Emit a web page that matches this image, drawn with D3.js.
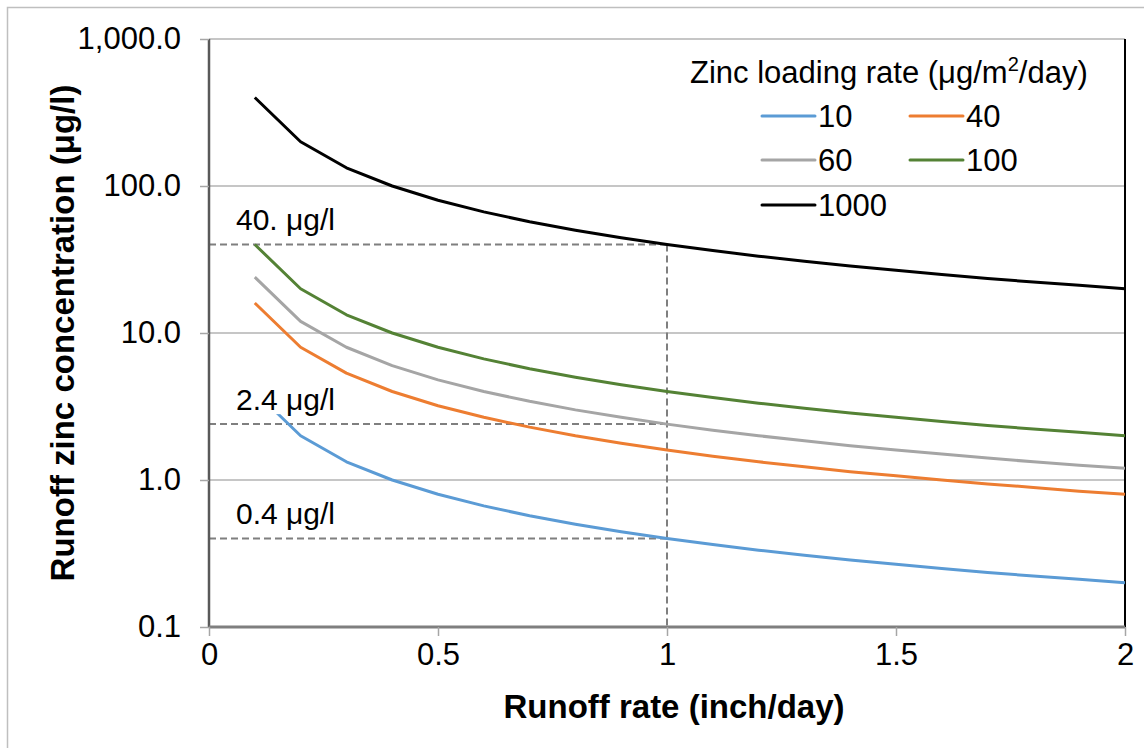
<!DOCTYPE html>
<html>
<head>
<meta charset="utf-8">
<script src="https://cdn.jsdelivr.net/npm/d3@7"></script>
<style>
  body { margin: 0; background: #fff; }
  text { font-family: "Liberation Sans", Arial, sans-serif; fill: #000; }
</style>
</head>
<body>
<div id="chart"></div>
<script>
// runoff rate (inch/day)
const runoffRate = [0.1, 0.2, 0.3, 0.4, 0.5, 0.6, 0.7, 0.8, 0.9, 1.0,
                    1.1, 1.2, 1.3, 1.4, 1.5, 1.6, 1.7, 1.8, 1.9, 2.0];

// zinc concentration (ug/l) for each loading rate
const load10 = [4.0, 2.0, 1.33, 1.0, 0.8, 0.667, 0.571, 0.5, 0.444, 0.4,
                0.364, 0.333, 0.308, 0.286, 0.267, 0.25, 0.235, 0.222, 0.211, 0.2];
const load40 = [16, 8.0, 5.33, 4.0, 3.2, 2.67, 2.29, 2.0, 1.78, 1.6,
                1.45, 1.33, 1.23, 1.14, 1.07, 1.0, 0.94, 0.89, 0.84, 0.8];
const load60 = [24, 12, 8.0, 6.0, 4.8, 4.0, 3.43, 3.0, 2.67, 2.4,
                2.18, 2.0, 1.85, 1.71, 1.6, 1.5, 1.41, 1.33, 1.26, 1.2];
const load100 = [40, 20, 13.3, 10, 8.0, 6.67, 5.71, 5.0, 4.44, 4.0,
                 3.64, 3.33, 3.08, 2.86, 2.67, 2.5, 2.35, 2.22, 2.11, 2.0];
const load1000 = [400, 200, 133, 100, 80, 66.7, 57.1, 50, 44.4, 40,
                  36.4, 33.3, 30.8, 28.6, 26.7, 25, 23.5, 22.2, 21.1, 20];

const seriesNames = ['10', '40', '60', '100', '1000'];
const seriesValues = [load10, load40, load60, load100, load1000];
const seriesColors = ['#5b9bd5', '#ed7d31', '#a5a5a5', '#548235', '#000000'];

const yTicks = [0.1, 1, 10, 100, 1000];
const xTicks = [0, 0.5, 1, 1.5, 2];

// reference lines at runoff 1 inch/day
const refX = 1;
const refY = [40, 2.4, 0.4];
const refLabels = ['40. \u03bcg/l', '2.4 \u03bcg/l', '0.4 \u03bcg/l'];

const width = 1144, height = 748;
const margin = { top: 39, right: 19, bottom: 121, left: 209 };

const svg = d3.select('#chart').append('svg')
  .attr('width', width)
  .attr('height', height);

// outer chart border
svg.append('rect')
  .attr('x', 7.5).attr('y', 7.5)
  .attr('width', 1140).attr('height', 745)
  .attr('fill', 'none').attr('stroke', '#bfbfbf').attr('stroke-width', 1.5);

const x = d3.scaleLinear().domain([0, 2]).range([margin.left, width - margin.right]);
const y = d3.scaleLog().domain([0.1, 1000]).range([height - margin.bottom, margin.top]);

// horizontal gridlines
svg.append('g').selectAll('line')
  .data(yTicks.slice(1))
  .enter().append('line')
  .attr('x1', x(0)).attr('x2', x(2))
  .attr('y1', d => y(d)).attr('y2', d => y(d))
  .attr('stroke', '#b3b3b3').attr('stroke-width', 1.5);

// right edge line
svg.append('line')
  .attr('x1', x(2)).attr('x2', x(2))
  .attr('y1', y(1000)).attr('y2', y(0.1))
  .attr('stroke', '#000').attr('stroke-width', 2);

// dashed reference lines
const dash = svg.append('g')
  .attr('stroke', '#7f7f7f').attr('stroke-width', 2)
  .attr('stroke-dasharray', '7,4').attr('fill', 'none');
dash.selectAll('line.h')
  .data(refY)
  .enter().append('line')
  .attr('class', 'h')
  .attr('x1', x(0)).attr('x2', x(refX))
  .attr('y1', d => y(d)).attr('y2', d => y(d));
dash.append('line')
  .attr('x1', x(refX)).attr('x2', x(refX))
  .attr('y1', y(d3.max(refY))).attr('y2', y(0.1));

// series lines
const line = d3.line()
  .x((d, i) => x(runoffRate[i]))
  .y(d => y(d));

svg.append('g').selectAll('path')
  .data(seriesValues)
  .enter().append('path')
  .attr('d', d => line(d))
  .attr('fill', 'none')
  .attr('stroke', (d, i) => seriesColors[i])
  .attr('stroke-width', 3)
  .attr('stroke-linejoin', 'round');

// reference labels (white boxes hide what is underneath)
const labelG = svg.append('g');
refY.forEach((v, i) => {
  const g = labelG.append('g');
  const t = g.append('text')
    .attr('x', 236)
    .attr('y', y(v) - 14)
    .attr('font-size', 30)
    .text(refLabels[i]);
  const bb = t.node().getBBox();
  g.insert('rect', 'text')
    .attr('x', bb.x - 4).attr('y', bb.y)
    .attr('width', bb.width + 8).attr('height', bb.height - 2)
    .attr('fill', '#fff');
});

// axes
const yAxis = d3.axisLeft(y)
  .tickValues(yTicks)
  .tickFormat(d3.format(',.1f'))
  .tickSize(9)
  .tickPadding(19);
const yg = svg.append('g')
  .attr('transform', `translate(${x(0)},0)`)
  .call(yAxis);

const xAxis = d3.axisBottom(x)
  .tickValues(xTicks)
  .tickFormat(d => String(d))
  .tickSize(9)
  .tickPadding(7);
const xg = svg.append('g')
  .attr('transform', `translate(0,${y(0.1)})`)
  .call(xAxis);

[yg, xg].forEach(g => {
  g.selectAll('text').attr('font-size', 31).attr('font-family', '"Liberation Sans", Arial, sans-serif');
  g.selectAll('.tick line').attr('stroke', '#a6a6a6').attr('stroke-width', 1.5);
});
yg.select('.domain').attr('stroke', '#595959').attr('stroke-width', 2.5)
  .attr('d', `M0,${y(1000)}V${y(0.1)}`);
xg.select('.domain').attr('stroke', '#7f7f7f').attr('stroke-width', 3)
  .attr('d', `M${x(0)},0H${x(2)}`);

// axis titles
svg.append('text')
  .attr('transform', `translate(62,${(y(1000) + y(0.1)) / 2}) rotate(-90)`)
  .attr('text-anchor', 'middle')
  .attr('dominant-baseline', 'central')
  .attr('font-size', 33)
  .attr('font-weight', 'bold')
  .text('Runoff zinc concentration (\u03bcg/l)');

svg.append('text')
  .attr('x', 674).attr('y', 718)
  .attr('text-anchor', 'middle')
  .attr('font-size', 33)
  .attr('font-weight', 'bold')
  .text('Runoff rate (inch/day)');

// legend
const legend = svg.append('g');
const lt = legend.append('text')
  .attr('x', 690).attr('y', 83)
  .attr('font-size', 31);
lt.append('tspan').text('Zinc loading rate (\u03bcg/m');
lt.append('tspan').attr('font-size', 20).attr('dy', -12).text('2');
lt.append('tspan').attr('dy', 12).text('/day)');

const legCols = [762, 910];
const legRows = [116, 160, 205];
seriesNames.forEach((name, i) => {
  const lx = legCols[i % 2], ly = legRows[Math.floor(i / 2)];
  legend.append('line')
    .attr('x1', lx).attr('x2', lx + 53)
    .attr('y1', ly).attr('y2', ly)
    .attr('stroke', seriesColors[i]).attr('stroke-width', 3)
    .attr('stroke-linecap', 'round');
  legend.append('text')
    .attr('x', lx + 56).attr('y', ly)
    .attr('dominant-baseline', 'central')
    .attr('font-size', 31)
    .text(name);
});
</script>
</body>
</html>
